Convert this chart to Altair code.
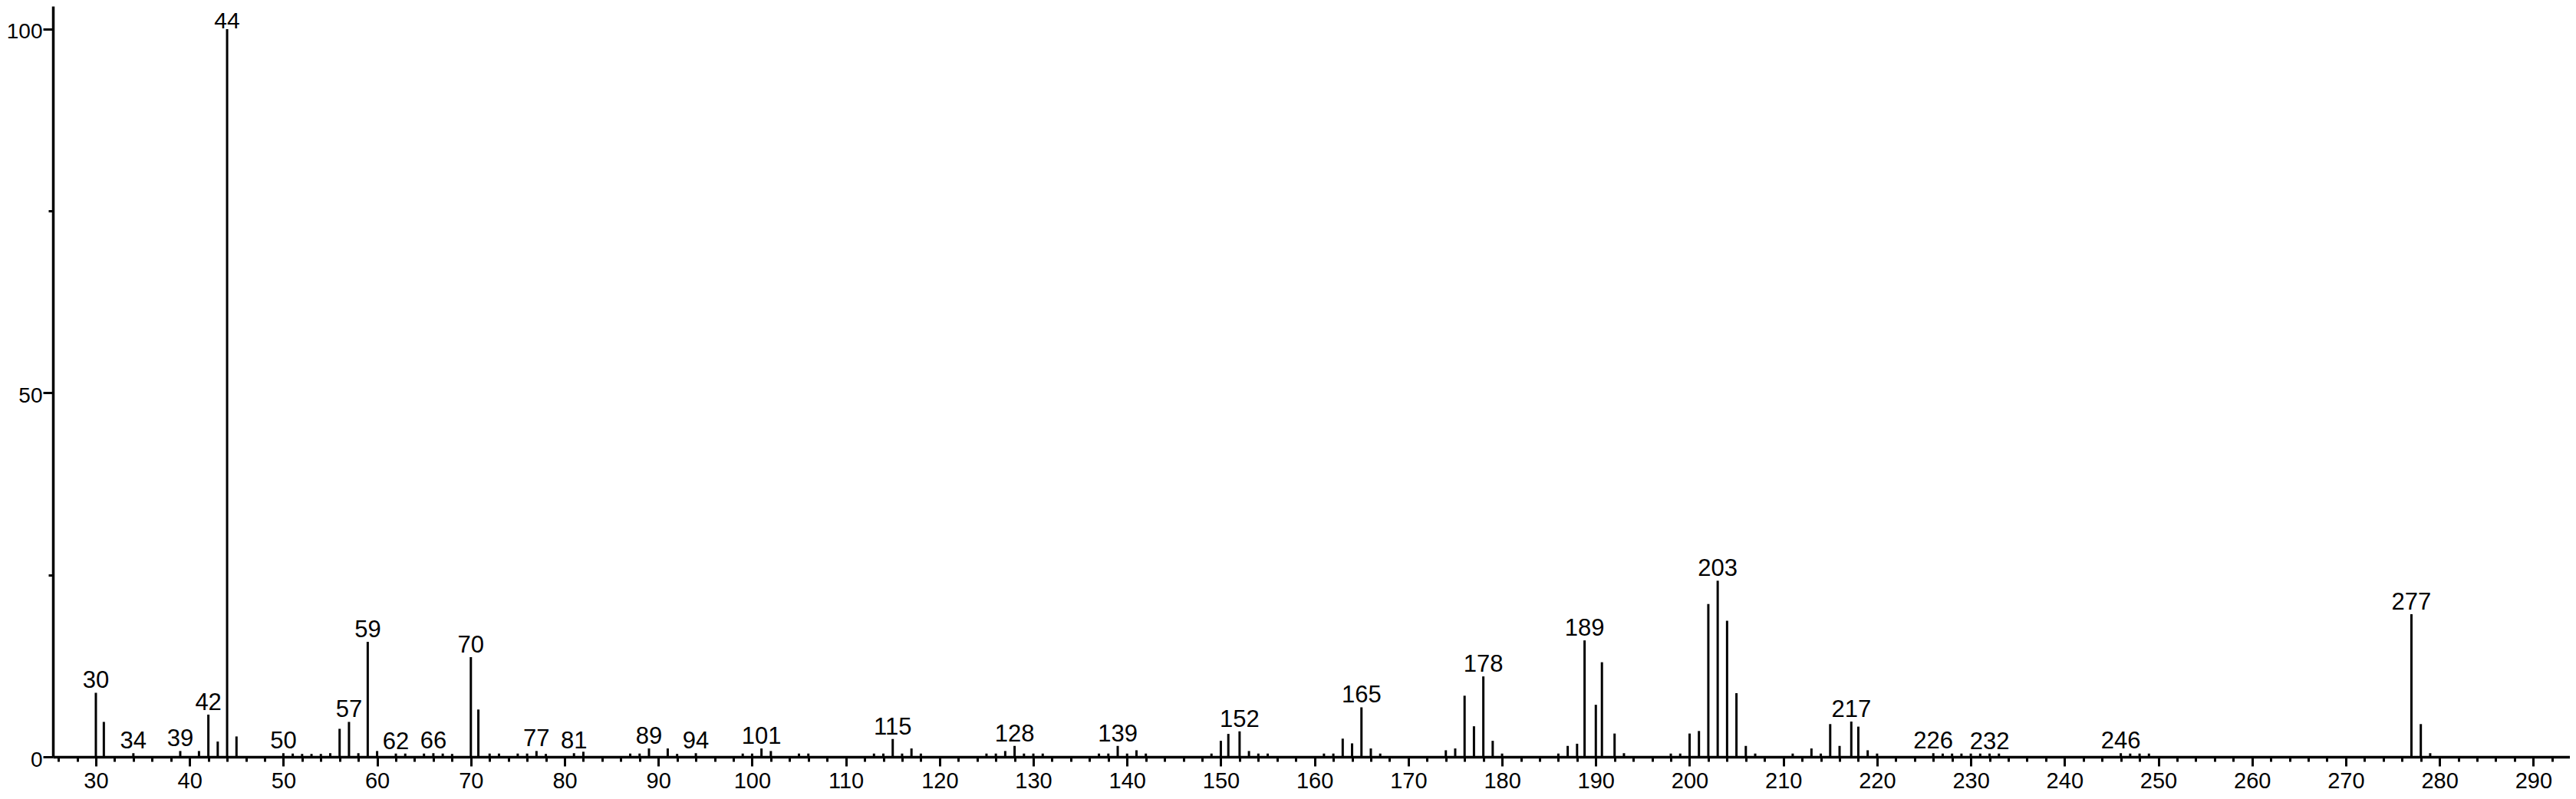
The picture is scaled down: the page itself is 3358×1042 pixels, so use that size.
import altair as alt
import pandas as pd

# m/z positions of the spectrum lines
mz = [30, 30.85, 34, 39, 41, 42, 43, 44, 45,
      50, 51, 52, 53, 54, 55, 56, 57, 58, 59,
      60, 62, 63, 65, 66, 67, 68,
      70, 70.8, 72, 73, 75, 76, 77, 78,
      81, 82, 87, 88, 89,
      91, 92, 94, 99,
      100, 101, 102, 105, 106,
      113, 114, 115, 116, 117, 118,
      125, 126, 127, 128, 129,
      130, 131, 137, 138, 139,
      140, 141, 142, 149,
      150, 150.8, 152, 153, 154, 155,
      161, 162, 163, 164, 165, 166, 167,
      174, 175, 176, 177, 178, 179,
      180, 186, 187, 188, 188.8,
      190, 190.65, 192, 193, 198, 199,
      200, 201, 202, 203, 204, 205, 206, 207,
      211, 213, 214, 215, 216, 217.25, 218, 219,
      220, 226, 227, 228, 229,
      230, 231, 232, 233,
      246, 247, 248, 249,
      277, 278, 279]

# relative intensities (%)
intensity = [8.8, 4.8, 0.5, 0.8, 0.8, 5.8, 2.1, 100, 2.8,
             0.5, 0.45, 0.4, 0.4, 0.4, 0.5, 3.85, 4.8, 0.5, 15.8,
             0.8, 0.45, 0.45, 0.45, 0.5, 0.45, 0.4,
             13.7, 6.5, 0.45, 0.45, 0.45, 0.45, 0.8, 0.4,
             0.5, 0.7, 0.45, 0.45, 1.15,
             1.15, 0.4, 0.5, 0.45,
             0.45, 1.15, 0.8, 0.45, 0.45,
             0.45, 0.45, 2.45, 0.45, 1.15, 0.45,
             0.45, 0.45, 0.8, 1.5, 0.45,
             0.45, 0.45, 0.45, 0.45, 1.5,
             0.45, 0.9, 0.45, 0.45,
             2.2, 3.15, 3.5, 0.8, 0.45, 0.45,
             0.45, 0.45, 2.5, 1.85, 6.8, 1.15, 0.45,
             0.9, 1.15, 8.4, 4.2, 11.05, 2.2,
             0.45, 0.45, 1.5, 1.8, 16.0,
             7.15, 13.0, 3.2, 0.5, 0.45, 0.45,
             3.2, 3.55, 21.0, 24.2, 18.7, 8.75, 1.5, 0.45,
             0.45, 1.15, 0.45, 4.5, 1.5, 4.85, 4.15, 0.9,
             0.45, 0.5, 0.45, 0.45, 0.45,
             0.45, 0.45, 0.45, 0.45,
             0.5, 0.45, 0.45, 0.45,
             19.6, 4.5, 0.5]

# nominal masses that carry a label
labeled = [30, 34, 39, 42, 44, 50, 57, 59, 62, 66, 70, 77, 81, 89, 94,
           101, 115, 128, 139, 152, 165, 178, 189, 203, 217, 226, 232,
           246, 277]

# axis ticks
x_major = list(range(30, 300, 10))
x_minor = [v for v in range(26, 294, 2) if v % 10 != 0]
y_major = [0, 50, 100]
y_minor = [25, 75]

assert len(mz) == len(intensity)

df = pd.DataFrame({"mz": mz, "intensity": intensity})
df["nominal"] = [int(round(v)) for v in mz]
lab = df[df["nominal"].isin(labeled)].copy()
lab["label"] = lab["nominal"].astype(str)

FONT = "Liberation Sans"
xscale = alt.Scale(domain=[25.42, 293.9], nice=False, zero=False)
yscale = alt.Scale(domain=[0, 103.16], nice=False, zero=False)

rules = alt.Chart(df).mark_rule(color="black", strokeWidth=3).encode(
    x=alt.X("mz:Q", scale=xscale, title=None,
            axis=alt.Axis(orient="bottom", values=x_major, tickSize=12,
                          tickWidth=3, tickColor="black", domainColor="black",
                          domainWidth=3.3, labelFontSize=29, labelFont=FONT,
                          labelColor="black", labelBaseline="alphabetic",
                          labelPadding=28, grid=False,
                          labelFlush=False, labelOverlap=False, format="d")),
    y=alt.Y("intensity:Q", scale=yscale, title=None,
            axis=alt.Axis(orient="left", values=y_major, tickSize=13,
                          tickWidth=3, tickColor="black", domainColor="black",
                          domainWidth=3.5, labelFontSize=28, labelFont=FONT,
                          labelColor="black", labelPadding=1, labelOffset=4,
                          grid=False, labelFlush=False, labelOverlap=False,
                          format="d")),
    y2=alt.datum(0),
)

texts = alt.Chart(lab).transform_filter(
    alt.datum.intensity < 100
).mark_text(
    color="black", font=FONT, fontSize=31, align="center",
    baseline="alphabetic", dy=-6
).encode(
    x=alt.X("mz:Q", scale=xscale, title=None,
            axis=alt.Axis(orient="bottom", values=x_minor, tickSize=6,
                          tickWidth=3, tickColor="black", labels=False,
                          domain=False, grid=False)),
    y=alt.Y("intensity:Q", scale=yscale, title=None,
            axis=alt.Axis(orient="left", values=y_minor, tickSize=6,
                          tickWidth=3, tickColor="black", labels=False,
                          domain=False, grid=False)),
    text="label:N",
)

top_text = alt.Chart(lab).transform_filter(
    alt.datum.intensity >= 100
).mark_text(
    color="black", font=FONT, fontSize=30, align="center",
    baseline="alphabetic", dy=-1
).encode(
    x=alt.X("mz:Q", scale=xscale, axis=None),
    y=alt.Y("intensity:Q", scale=yscale, axis=None),
    text="label:N",
)

chart = alt.layer(rules, texts, top_text).resolve_axis(
    x="independent", y="independent"
).properties(
    width=3281, height=979,
    padding={"left": 61, "top": 0, "right": 0, "bottom": 47},
    autosize=alt.AutoSizeParams(type="none"),
    background="white",
).configure_view(strokeWidth=0)

chart.save("out.html", embed_options={"renderer": "svg", "actions": False})
